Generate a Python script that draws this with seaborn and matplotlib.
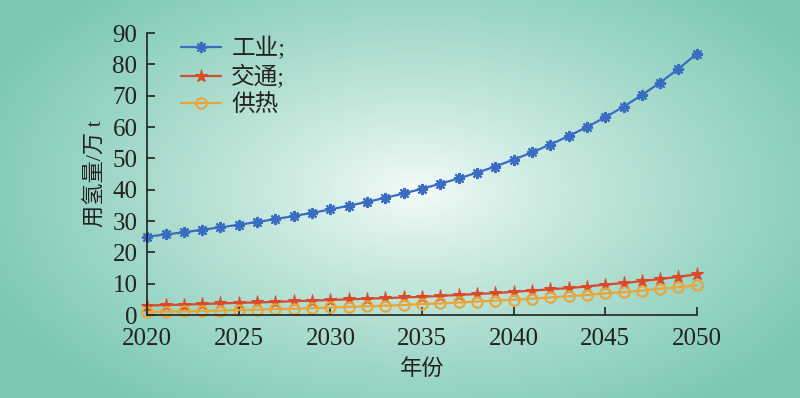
import numpy as np
import pandas as pd
import matplotlib
matplotlib.use("Agg")
import matplotlib.pyplot as plt
import seaborn as sns

# data
years = list(range(2020, 2051))
industry = [25.0, 25.7, 26.4, 27.2, 28.0, 28.8, 29.7, 30.6, 31.6, 32.6,
            33.7, 34.9, 36.1, 37.4, 38.8, 40.3, 41.9, 43.6, 45.4, 47.4,
            49.6, 51.9, 54.4, 57.1, 60.0, 63.1, 66.5, 70.2, 74.2, 78.6, 83.4]
transport = [3.0, 3.2, 3.3, 3.5, 3.7, 3.9, 4.0, 4.2, 4.4, 4.6,
             4.8, 5.0, 5.2, 5.4, 5.6, 5.8, 6.1, 6.4, 6.7, 7.0,
             7.4, 7.8, 8.2, 8.6, 9.1, 9.7, 10.2, 10.8, 11.5, 12.2, 13.0]
heating = [1.0, 1.1, 1.2, 1.3, 1.4, 1.6, 1.7, 1.9, 2.0, 2.2,
           2.4, 2.6, 2.8, 3.0, 3.2, 3.5, 3.7, 4.0, 4.3, 4.6,
           4.9, 5.2, 5.6, 6.0, 6.4, 6.9, 7.3, 7.8, 8.4, 8.9, 9.5]
labels = ["工业;", "交通;", "供热"]
colors = ["#3a6cc2", "#d84a2a", "#e9a53a"]

sns.set_style("ticks")
plt.rcParams["font.family"] = ["Liberation Serif", "Noto Sans CJK SC"]
plt.rcParams["axes.unicode_minus"] = False

fig = plt.figure(figsize=(8, 3.98), dpi=100)

# radial background gradient
bg = fig.add_axes([0, 0, 1, 1], zorder=-1)
W, H = 800, 398
xx, yy = np.meshgrid(np.arange(W), np.arange(H))
r = np.sqrt(((xx - 415) / 470) ** 2 + ((yy - 190) / 270) ** 2)
t = np.clip(r, 0, 1) ** 0.85
c0 = np.array([246, 252, 250]) / 255
c1 = np.array([122, 200, 178]) / 255
img = c0[None, None, :] * (1 - t[..., None]) + c1[None, None, :] * t[..., None]
bg.imshow(img, aspect="auto", extent=[0, 1, 0, 1])
bg.axis("off")

ax = fig.add_axes([0.184, 0.2085, 0.687, 0.7085])
ax.patch.set_alpha(0)

df = pd.DataFrame({"年份": years, "工业": industry, "交通": transport, "供热": heating})

sns.lineplot(data=df, x="年份", y="工业", ax=ax, color=colors[0], lw=1.6,
             marker=(8, 2, 0), markersize=8, markeredgewidth=1.5,
             markeredgecolor=colors[0], label=labels[0], clip_on=False)
sns.lineplot(data=df, x="年份", y="交通", ax=ax, color=colors[1], lw=1.6,
             marker="*", markersize=9.5, markeredgecolor=colors[1],
             label=labels[1], clip_on=False)
sns.lineplot(data=df, x="年份", y="供热", ax=ax, color=colors[2], lw=1.6,
             marker="o", markersize=7.5, markerfacecolor="none",
             markeredgewidth=1.5, markeredgecolor=colors[2],
             label=labels[2], clip_on=False)

ax.set_xlim(2020, 2050)
ax.set_ylim(0, 90)
ax.set_xticks(range(2020, 2051, 5))
ax.set_yticks(range(0, 91, 10))
ax.tick_params(direction="in", length=6, width=1.2, labelsize=18, colors="#222222")
ax.tick_params(axis="x", pad=9)
ax.tick_params(axis="y", pad=7)
sns.despine(ax=ax)
for s in ["left", "bottom"]:
    ax.spines[s].set_linewidth(1.2)
    ax.spines[s].set_color("#222222")

ax.set_xlabel("年份", fontsize=16, color="#222222", labelpad=7)
ax.set_ylabel("用氢量/万 t", fontsize=16, color="#222222", labelpad=4)

leg = ax.legend(loc="upper left", bbox_to_anchor=(0.035, 1.035), frameon=False,
                fontsize=17, handlelength=1.7, handletextpad=0.45,
                labelspacing=0.2, borderaxespad=0.2)
for txt in leg.get_texts():
    txt.set_color("#222222")

fig.savefig("out.png", dpi=100)
